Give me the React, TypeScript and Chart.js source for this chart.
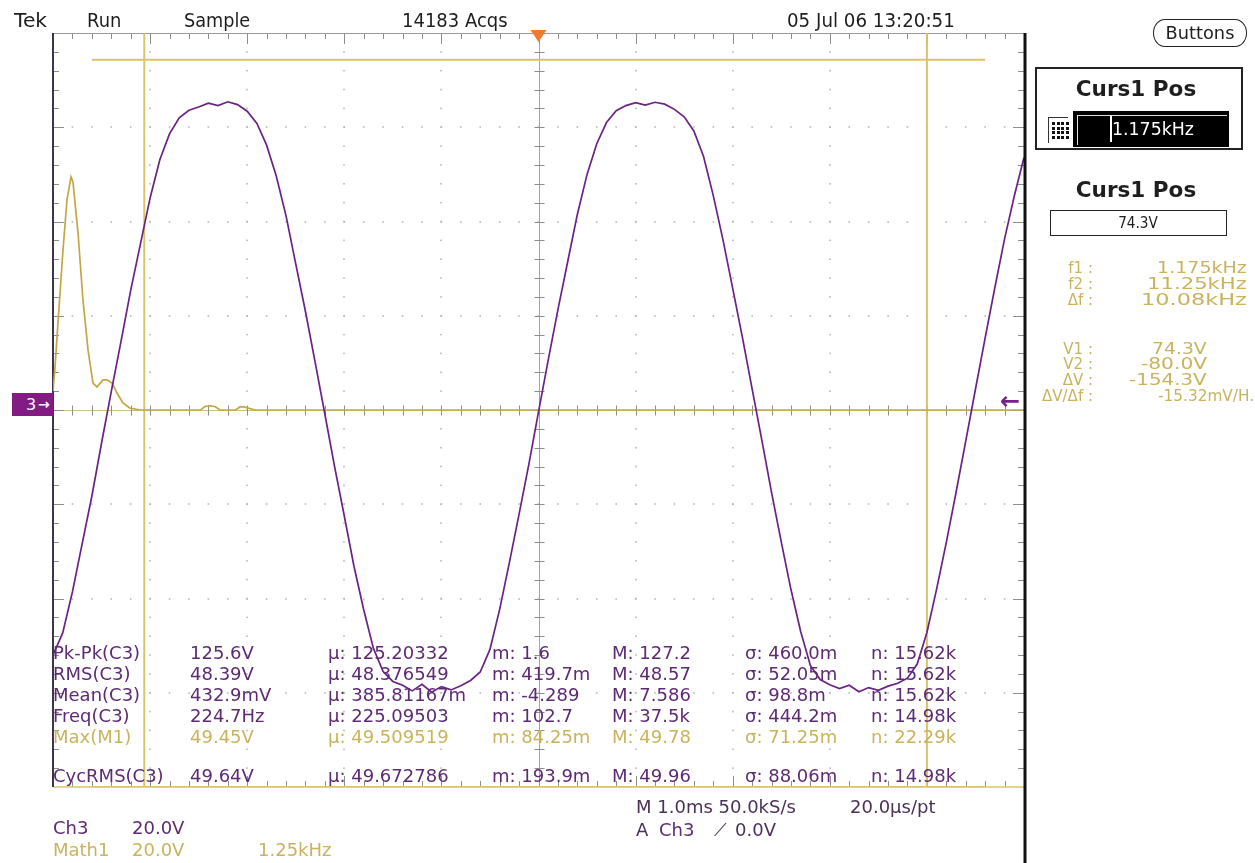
import React, { useEffect, useLayoutEffect, useRef } from 'react';
import { Chart, registerables } from 'chart.js';

Chart.register(...registerables);

// ---------------- DATA ----------------
// Ch3 trace: one sample per 0.1 ms across the 10 ms record (1 ms/div)
const ch3StepMs = 0.1;
const ch3Volts = [
  -52.0, -47.3, -38.6, -28.4, -18.3, -7.0, 3.9, 14.5, 25.4, 35.2,
  45.0, 53.1, 58.6, 62.0, 63.6, 64.3, 65.1, 64.6, 65.4, 64.8,
  63.4, 60.8, 56.2, 49.6, 41.2, 31.0, 20.9, 10.1, -0.9, -12.0,
  -22.5, -33.2, -42.4, -50.6, -55.5, -57.6, -58.4, -59.6, -58.2, -59.9,
  -58.7, -59.4, -58.5, -57.4, -55.6, -50.8, -42.3, -32.4, -22.1, -11.6,
  -0.4, 10.6, 21.3, 31.4, 41.5, 50.0, 56.5, 61.0, 63.5, 64.6,
  65.2, 64.7, 65.3, 64.9, 63.8, 62.2, 59.2, 53.8, 45.5, 36.1,
  25.8, 15.4, 4.5, -6.4, -17.5, -28.0, -38.1, -47.0, -54.2, -57.2,
  -58.3, -59.1, -58.4, -59.8, -58.9, -59.5, -58.6, -58.0, -56.9, -53.9,
  -47.2, -38.0, -28.1, -17.5, -6.6, 4.4, 15.3, 26.0, 36.3, 45.4,
  53.6,
];
// Math1 (FFT of Ch3): frequency in kHz (1.25 kHz/div), magnitude in V (20 V/div)
const fftFreqKHz = [0, 0.026, 0.064, 0.129, 0.18, 0.232, 0.257, 0.322, 0.386, 0.451, 0.515, 0.566, 0.644, 0.695, 0.76, 0.824, 0.901, 0.991, 1.12, 1.9, 1.96, 2.03, 2.09, 2.15, 2.35, 2.41, 2.47, 2.6, 12.5];
const fftMagV = [4.0, 9.1, 18.5, 34.0, 44.6, 49.45, 48.4, 37.6, 23.3, 12.7, 5.7, 4.9, 6.4, 6.4, 5.7, 3.6, 1.5, 0.4, 0, 0, 0.8, 0.9, 0.7, 0, 0, 0.7, 0.6, 0, 0];
// Cursors
const cursorFreqKHz = [1.175, 11.25];
const cursorVolts = [74.3, -80.0];
const cursorSpanKHz = [0.5, 12.0];
const cursorFreqLabels = ['f1 :', 'f2 :', 'Δf :'];
const cursorFreqTexts = ['1.175kHz', '11.25kHz', '10.08kHz'];
const cursorVoltLabels = ['V1 :', 'V2 :', 'ΔV :', 'ΔV/Δf :'];
const cursorVoltTexts = ['74.3V', '-80.0V', '-154.3V', '-15.32mV/H.'];
// Axes ranges
const timeRangeMs = [0, 10];
const freqRangeKHz = [0, 12.5];
const voltRange = [-80, 80];
const voltPerDiv = 20;
const msPerDiv = 1;
const minorPerDiv = 5;
// Measurements
const measLabels = ['Pk-Pk(C3)', 'RMS(C3)', 'Mean(C3)', 'Freq(C3)', 'Max(M1)', 'CycRMS(C3)'];
const measValues = ['125.6V', '48.39V', '432.9mV', '224.7Hz', '49.45V', '49.64V'];
const measMean = ['125.20332', '48.376549', '385.81167m', '225.09503', '49.509519', '49.672786'];
const measMin = ['1.6', '419.7m', '-4.289', '102.7', '84.25m', '193.9m'];
const measMax = ['127.2', '48.57', '7.586', '37.5k', '49.78', '49.96'];
const measStd = ['460.0m', '52.05m', '98.8m', '444.2m', '71.25m', '88.06m'];
const measCount = ['15.62k', '15.62k', '15.62k', '14.98k', '22.29k', '14.98k'];
const measIsMath = [false, false, false, false, true, false];

// ---------------- STYLE ----------------
const PURPLE = '#6a2382';
const PURPLE_TXT = '#5d2a73';
const YEL_TRACE = '#c2a845';
const YEL_CURSOR = '#dcc36a';
const YEL_TXT = '#c9b35e';
const FONT = '"DejaVu Sans", sans-serif';

type TP = { x: number; y: number; s?: number; c?: string; w?: number; b?: boolean; a?: 'left' | 'right' | 'center'; children: React.ReactNode };
function T({ x, y, s = 18, c = '#1e1e1e', w, b, a = 'left', children }: TP) {
  const ref = useRef<HTMLDivElement>(null);
  const base = a === 'center' ? 'translate(-50%,-50%)' : 'translateY(-50%)';
  useLayoutEffect(() => {
    const el = ref.current;
    if (!el) return;
    el.style.transform = base;
    if (w) {
      const nw = el.offsetWidth;
      if (nw > 0) el.style.transform = `${base} scaleX(${w / nw})`;
    }
  });
  const style: React.CSSProperties = {
    position: 'absolute', top: y, whiteSpace: 'nowrap', fontSize: s, lineHeight: 1, color: c,
    fontWeight: b ? 'bold' : 'normal', fontFamily: FONT,
    transformOrigin: a === 'right' ? 'right center' : a === 'center' ? 'center center' : 'left center',
    transform: base,
  };
  if (a === 'right') style.right = 1255 - x; else style.left = x;
  return <div ref={ref} style={style}>{children}</div>;
}

const graticule = {
  id: 'graticule',
  beforeDatasetsDraw(chart: any) {
    const { ctx, chartArea: a, scales } = chart;
    const xs = scales.x, ys = scales.y;
    const nX = (timeRangeMs[1] - timeRangeMs[0]) / msPerDiv;
    const nY = (voltRange[1] - voltRange[0]) / voltPerDiv;
    const midT = (timeRangeMs[0] + timeRangeMs[1]) / 2;
    ctx.save();
    ctx.fillStyle = '#b9b9b9';
    for (let i = 1; i < nX; i++) {
      const t = timeRangeMs[0] + i * msPerDiv;
      if (Math.abs(t - midT) < 1e-9) continue;
      const px = Math.round(xs.getPixelForValue(t));
      for (let k = 1; k < nY * minorPerDiv; k++) {
        const py = ys.getPixelForValue(voltRange[0] + (k * voltPerDiv) / minorPerDiv);
        ctx.fillRect(px - 0.8, py - 0.8, 1.6, 1.6);
      }
    }
    for (let j = 1; j < nY; j++) {
      const v = voltRange[0] + j * voltPerDiv;
      if (v === 0) continue;
      const py = Math.round(ys.getPixelForValue(v));
      for (let k = 1; k < nX * minorPerDiv; k++) {
        const px = xs.getPixelForValue(timeRangeMs[0] + (k * msPerDiv) / minorPerDiv);
        ctx.fillRect(px - 0.8, py - 0.8, 1.6, 1.6);
      }
    }
    // center axes
    const cx = Math.round(xs.getPixelForValue(midT)) + 0.5;
    const cy = Math.round(ys.getPixelForValue(0)) + 0.5;
    ctx.lineWidth = 1;
    ctx.strokeStyle = '#c9c08a';
    ctx.beginPath(); ctx.moveTo(a.left, cy); ctx.lineTo(a.right, cy); ctx.stroke();
    ctx.strokeStyle = '#a4a4a4';
    ctx.beginPath(); ctx.moveTo(cx, a.top); ctx.lineTo(cx, a.bottom); ctx.stroke();
    // ticks
    ctx.strokeStyle = '#8d8d8d';
    ctx.beginPath();
    for (let k = 1; k < nX * minorPerDiv; k++) {
      const px = Math.round(xs.getPixelForValue(timeRangeMs[0] + (k * msPerDiv) / minorPerDiv)) + 0.5;
      const major = k % minorPerDiv === 0;
      ctx.moveTo(px, a.top); ctx.lineTo(px, a.top + (major ? 11 : 6));
      ctx.moveTo(px, a.bottom); ctx.lineTo(px, a.bottom - (major ? 11 : 6));
      ctx.moveTo(px, cy - 5); ctx.lineTo(px, cy + 5);
    }
    for (let k = 1; k < nY * minorPerDiv; k++) {
      const py = Math.round(ys.getPixelForValue(voltRange[0] + (k * voltPerDiv) / minorPerDiv)) + 0.5;
      const major = k % minorPerDiv === 0;
      ctx.moveTo(a.left, py); ctx.lineTo(a.left + (major ? 11 : 6), py);
      ctx.moveTo(a.right, py); ctx.lineTo(a.right - (major ? 11 : 6), py);
      ctx.moveTo(cx - 5, py); ctx.lineTo(cx + 5, py);
    }
    ctx.stroke();
    // top border
    ctx.strokeStyle = '#9a9a9a';
    ctx.beginPath(); ctx.moveTo(a.left, a.top + 0.5); ctx.lineTo(a.right, a.top + 0.5); ctx.stroke();
    // bottom border (pale yellow)
    ctx.strokeStyle = YEL_CURSOR;
    ctx.lineWidth = 1.5;
    ctx.beginPath(); ctx.moveTo(a.left, a.bottom); ctx.lineTo(a.right, a.bottom); ctx.stroke();
    // left border
    ctx.strokeStyle = '#3d3548';
    ctx.lineWidth = 2;
    ctx.beginPath(); ctx.moveTo(a.left, a.top); ctx.lineTo(a.left, a.bottom); ctx.stroke();
    ctx.restore();
  },
  afterDatasetsDraw(chart: any) {
    const { ctx, chartArea: a, scales } = chart;
    ctx.save();
    // right border, running down to the bottom of the screen
    ctx.strokeStyle = '#111';
    ctx.lineWidth = 3;
    ctx.beginPath(); ctx.moveTo(a.right + 1, a.top); ctx.lineTo(a.right + 1, chart.height); ctx.stroke();
    // trigger position marker
    const tx = scales.x.getPixelForValue((timeRangeMs[0] + timeRangeMs[1]) / 2);
    ctx.fillStyle = '#f07a2e';
    ctx.beginPath();
    ctx.moveTo(tx - 8, a.top - 3); ctx.lineTo(tx + 8, a.top - 3); ctx.lineTo(tx, a.top + 9); ctx.closePath();
    ctx.fill();
    ctx.restore();
  },
};

export default function App() {
  const canvasRef = useRef<HTMLCanvasElement>(null);
  useEffect(() => {
    document.body.style.overflow = 'hidden';
    const canvas = canvasRef.current;
    if (!canvas) return;
    const ch3Data = ch3Volts.map((v, i) => ({ x: timeRangeMs[0] + i * ch3StepMs, y: v }));
    const fftData = fftFreqKHz.map((f, i) => ({ x: f, y: fftMagV[i] }));
    const line = (color: string, width: number) => ({ borderColor: color, borderWidth: width, pointRadius: 0, tension: 0, fill: false });
    const chart = new Chart(canvas, {
      type: 'line',
      data: {
        datasets: [
          { label: 'Ch3', data: ch3Data, xAxisID: 'x', yAxisID: 'y', ...line(PURPLE, 1.7) },
          { label: 'Math1', data: fftData, xAxisID: 'xf', yAxisID: 'y', ...line(YEL_TRACE, 1.7) },
          ...cursorFreqKHz.map((f, i) => ({ label: 'f' + (i + 1), data: [{ x: f, y: voltRange[0] }, { x: f, y: voltRange[1] }], xAxisID: 'xf', yAxisID: 'y', ...line(YEL_CURSOR, 2) })),
          ...cursorVolts.map((v, i) => ({ label: 'V' + (i + 1), data: [{ x: cursorSpanKHz[0], y: v }, { x: cursorSpanKHz[1], y: v }], xAxisID: 'xf', yAxisID: 'y', ...line(YEL_CURSOR, 2) })),
        ] as any,
      },
      options: {
        animation: false,
        responsive: false,
        events: [],
        layout: { padding: { left: 53, top: 33, right: 231, bottom: 76 } },
        plugins: { legend: { display: false }, tooltip: { enabled: false } },
        scales: {
          x: { type: 'linear', min: timeRangeMs[0], max: timeRangeMs[1], display: false },
          xf: { type: 'linear', min: freqRangeKHz[0], max: freqRangeKHz[1], display: false },
          y: { type: 'linear', min: voltRange[0], max: voltRange[1], display: false },
        },
      },
      plugins: [graticule],
    });
    return () => chart.destroy();
  }, []);

  const rows = [653, 674, 695, 716, 737, 776];
  const cols = [53, 190, 328, 492, 612, 745, 871];
  const fRows = [268, 284, 300];
  const fWidths = [90, 100, 106];
  const vRows = [349, 364, 380, 396];
  const vRight = [1207, 1207, 1207, 1254];
  const vWidths = [55, 66, 78, 96];

  return (
    <div style={{ position: 'absolute', left: 0, top: 0, width: 1255, height: 863, overflow: 'hidden', background: '#fff' }}>
      <canvas ref={canvasRef} width={1255} height={863} style={{ position: 'absolute', left: 0, top: 0, width: 1255, height: 863 }} />

      {/* header */}
      <T x={14} y={20} s={19} w={33}>Tek</T>
      <T x={87} y={20} s={19} w={34}>Run</T>
      <T x={184} y={20} s={19} w={66}>Sample</T>
      <T x={402} y={20} s={19} w={106}>14183 Acqs</T>
      <T x={787} y={20} s={19} w={168}>05 Jul 06 13:20:51</T>

      {/* channel ground marker */}
      <div style={{ position: 'absolute', left: 12, top: 393, width: 41, height: 23, background: '#821c84' }} />
      <T x={26} y={405} s={16} c="#fff">3</T>
      <T x={38} y={404} s={14} c="#fff" b>→</T>
      <T x={1000} y={401} s={24} c="#7a1f8a" b>←</T>

      {/* measurement table */}
      {measLabels.map((lab, i) => {
        const col = measIsMath[i] ? YEL_TXT : PURPLE_TXT;
        const y = rows[i];
        return (
          <React.Fragment key={lab}>
            <T x={cols[0]} y={y} c={col}>{lab}</T>
            <T x={cols[1]} y={y} c={col}>{measValues[i]}</T>
            <T x={cols[2]} y={y} c={col}>{'μ: ' + measMean[i]}</T>
            <T x={cols[3]} y={y} c={col}>{'m: ' + measMin[i]}</T>
            <T x={cols[4]} y={y} c={col}>{'M: ' + measMax[i]}</T>
            <T x={cols[5]} y={y} c={col}>{'σ: ' + measStd[i]}</T>
            <T x={cols[6]} y={y} c={col}>{'n: ' + measCount[i]}</T>
          </React.Fragment>
        );
      })}

      {/* bottom readouts */}
      <T x={53} y={828} c={PURPLE_TXT}>Ch3</T>
      <T x={132} y={828} c={PURPLE_TXT}>20.0V</T>
      <T x={53} y={850} c={YEL_TXT}>Math1</T>
      <T x={132} y={850} c={YEL_TXT}>20.0V</T>
      <T x={258} y={850} c={YEL_TXT}>1.25kHz</T>
      <T x={636} y={807} c="#4b3158">M 1.0ms 50.0kS/s</T>
      <T x={850} y={807} c="#4b3158">20.0μs/pt</T>
      <T x={636} y={830} c="#4b3158">A</T>
      <T x={659} y={830} c={PURPLE_TXT}>Ch3</T>
      <T x={714} y={830} c="#4b3158">⟋</T>
      <T x={735} y={830} c="#4b3158">0.0V</T>

      {/* right panel */}
      <div style={{ position: 'absolute', left: 1153, top: 19, width: 94, height: 28, boxSizing: 'border-box', border: '1.5px solid #222', borderRadius: '12px / 14px' }} />
      <T x={1200} y={33} s={17} w={69} a="center">Buttons</T>

      <div style={{ position: 'absolute', left: 1035, top: 67, width: 208, height: 83, boxSizing: 'border-box', border: '2px solid #222' }} />
      <T x={1136} y={89} s={21} b w={120} a="center">Curs1 Pos</T>
      <div style={{ position: 'absolute', left: 1048, top: 117, width: 20, height: 26, boxSizing: 'border-box', borderLeft: '1.5px solid #333', borderTop: '1.5px solid #333', display: 'grid', gridTemplateColumns: 'repeat(4, 3px)', gridAutoRows: '3px', gap: '1.5px', padding: '4px 0 0 3px' }}>
        {Array.from({ length: 16 }).map((_, i) => <div key={i} style={{ background: '#111' }} />)}
      </div>
      <div style={{ position: 'absolute', left: 1073, top: 111, width: 156, height: 36, background: '#000' }} />
      <div style={{ position: 'absolute', left: 1077, top: 115, width: 150, height: 30, boxSizing: 'border-box', borderLeft: '1.5px solid #ddd', borderTop: '1.5px solid #ddd' }} />
      <div style={{ position: 'absolute', left: 1110, top: 116, width: 1.5, height: 26, background: '#fff' }} />
      <T x={1112} y={129} s={18} c="#fff" w={82}>{cursorFreqTexts[0]}</T>

      <T x={1136} y={190} s={21} b w={120} a="center">Curs1 Pos</T>
      <div style={{ position: 'absolute', left: 1050, top: 210, width: 177, height: 26, boxSizing: 'border-box', border: '1.5px solid #222' }} />
      <T x={1138} y={223} s={16} w={40} a="center">{cursorVoltTexts[0]}</T>

      {cursorFreqLabels.map((lab, i) => (
        <React.Fragment key={lab}>
          <T x={1093} y={fRows[i]} s={15} c={YEL_TXT} a="right">{lab}</T>
          <T x={1247} y={fRows[i]} s={15} c={YEL_TXT} a="right" w={fWidths[i]}>{cursorFreqTexts[i]}</T>
        </React.Fragment>
      ))}
      {cursorVoltLabels.map((lab, i) => (
        <React.Fragment key={lab}>
          <T x={1093} y={vRows[i]} s={15} c={YEL_TXT} a="right">{lab}</T>
          <T x={vRight[i]} y={vRows[i]} s={15} c={YEL_TXT} a="right" w={vWidths[i]}>{cursorVoltTexts[i]}</T>
        </React.Fragment>
      ))}
    </div>
  );
}
